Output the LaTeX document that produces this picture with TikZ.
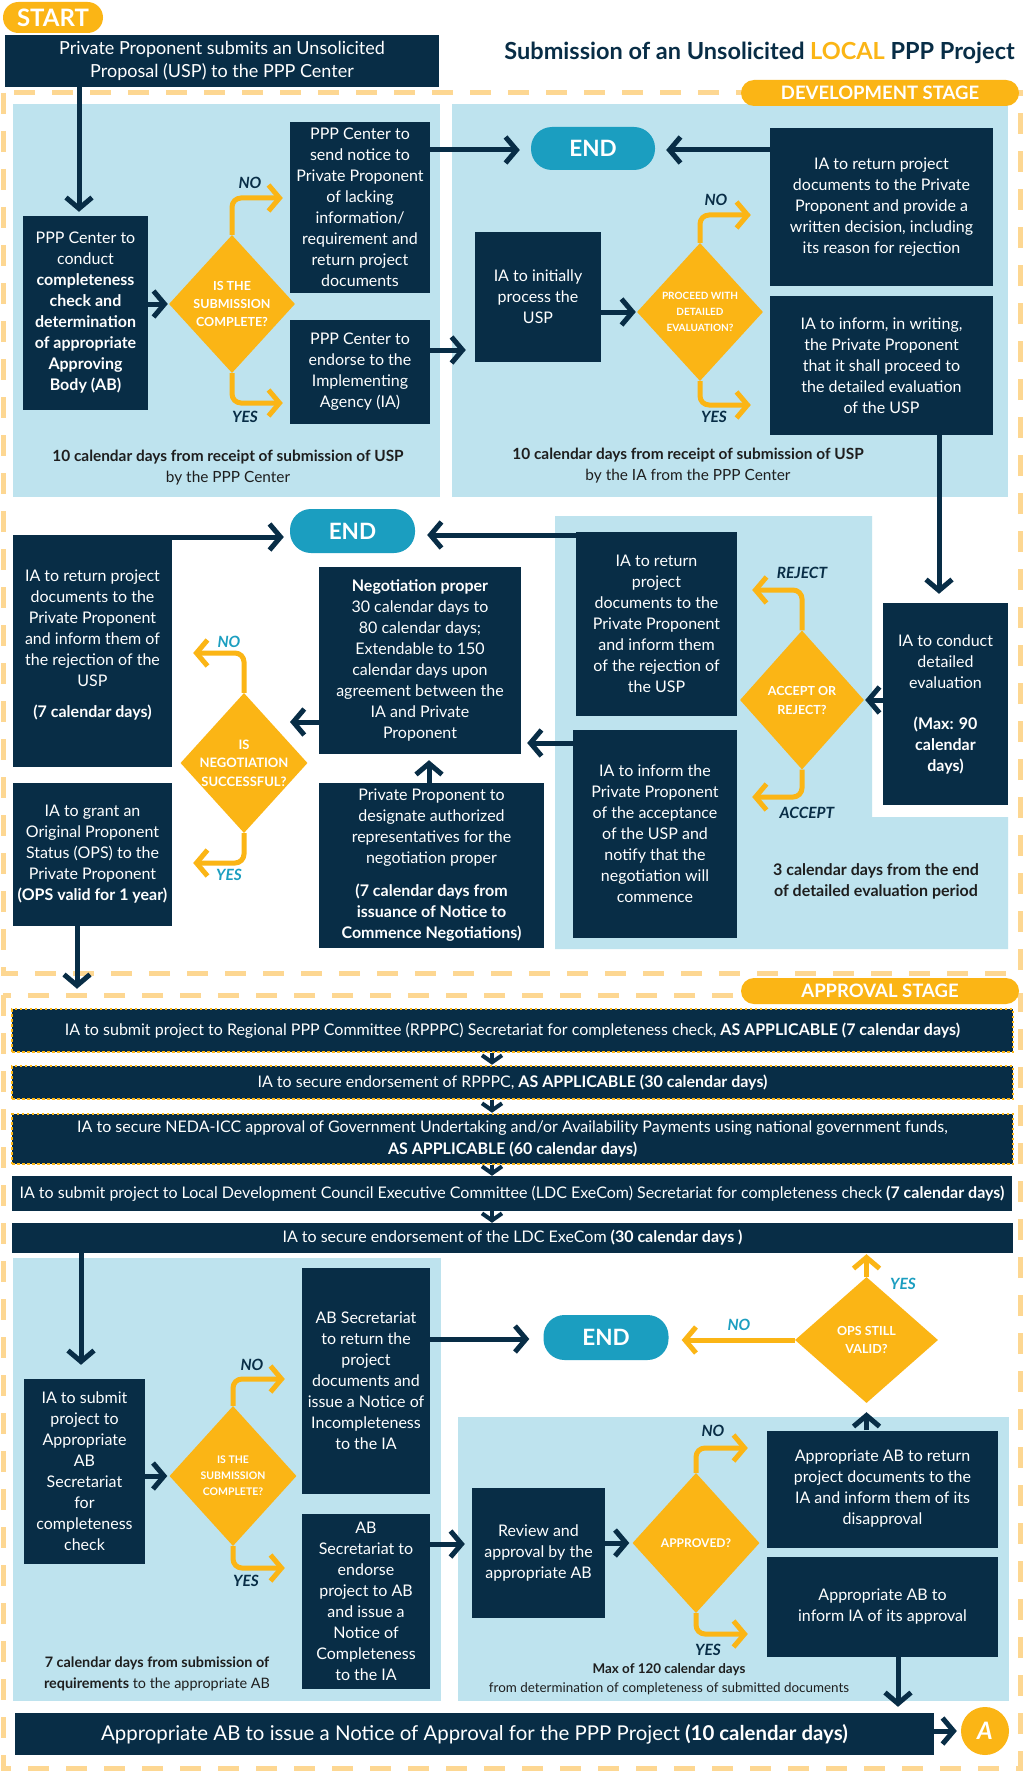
\documentclass[tikz,border=0pt]{standalone}
\usepackage{fontspec}
\setmainfont{Lato}
\usetikzlibrary{arrows.meta,shapes.geometric,calc}
\definecolor{navy}{HTML}{082D46}
\definecolor{yel}{HTML}{FBB515}
\definecolor{lblue}{HTML}{BEE3EE}
\definecolor{dashc}{HTML}{FDD792}
\definecolor{tealc}{HTML}{1B9EC0}
\definecolor{capc}{HTML}{1E1E1E}
\tikzset{
 box/.style={fill=navy, text=white, inner sep=0pt, align=center, font=\fontsize{16}{21}\selectfont},
 dia/.style={diamond, fill=yel, inner sep=0pt},
 diatxt/.style={text=white, align=center, inner sep=0pt},
 endpill/.style={fill=tealc, rounded corners=21pt, text=white, font=\bfseries\fontsize{22.5}{22.5}\selectfont, inner sep=0pt},
 arr/.style={draw=navy, line width=5pt, -{Straight Barb[length=11pt,width=26pt]}},
 yarr/.style={draw=yel, line width=5pt, rounded corners=9pt, -{Straight Barb[length=11pt,width=26pt]}},
 sarr/.style={draw=navy, line width=4pt, -{Straight Barb[length=7pt,width=20pt]}},
 lbl/.style={font=\bfseries\itshape\fontsize{15.5}{15.5}\selectfont, text=navy, inner sep=0pt},
 tlbl/.style={lbl, text=tealc},
 captxt/.style={text=capc, align=center, font=\fontsize{15.4}{21}\selectfont, inner sep=0pt},
 bar/.style={fill=navy, text=white, inner sep=0pt, align=center, font=\fontsize{16}{22}\selectfont},
 dotbar/.style={bar, draw=yel, line width=2.5pt, dash pattern=on 2.5pt off 2.5pt},
 stageframe/.style={draw=dashc, line width=5pt, dash pattern=on 21pt off 17pt},
 stage/.style={fill=yel, text=white, rounded corners=13pt, font=\bfseries\fontsize{18.5}{18.5}\selectfont, inner sep=0pt},
}
\begin{document}
\begin{tikzpicture}[x=1pt,y=-1pt]
\useasboundingbox (0,0) rectangle (1024,1771);
\fill[white] (0,0) rectangle (1024,1771);

% ---------- frames and panels ----------
\draw[stageframe] (3,93) rectangle (1020,973);
\draw[stageframe] (3,995) rectangle (1020,1768);
\fill[lblue] (13,104) rectangle (440,497);
\fill[lblue] (452,104) rectangle (1008,497);
\fill[lblue] (555,516) -- (872,516) -- (872,817) -- (1008,817) -- (1008,949) -- (555,949) -- cycle;
\fill[lblue] (13,1258) rectangle (441,1701);
\fill[lblue] (458,1417) rectangle (1009,1701);

% ---------- header ----------
\node[stage, minimum width=100pt, minimum height=31pt, rounded corners=15.5pt, font=\bfseries\fontsize{24}{24}\selectfont] (start) at (53,17.5) {START};
\node[box, minimum width=434pt, minimum height=52pt, font=\fontsize{18}{23}\selectfont] (topbox) at (222,61) {Private Proponent submits an Unsolicited\\Proposal (USP) to the PPP Center};
\node[anchor=east, text=navy, font=\bfseries\fontsize{23.5}{26}\selectfont, inner sep=0pt] (title) at (1015,53) {Submission of an Unsolicited {\color{yel}LOCAL} PPP Project};
\node[stage, minimum width=278pt, minimum height=26pt] (devst) at (880,93) {DEVELOPMENT STAGE};

% ---------- development stage, panel 1 ----------
\node[box, minimum width=125pt, minimum height=194pt] (ppp1) at (85.5,313) {PPP Center to\\conduct\\\textbf{completeness}\\\textbf{check and}\\\textbf{determination}\\\textbf{of appropriate}\\\textbf{Approving}\\\textbf{Body (AB)}};
\node[dia, minimum width=126pt, minimum height=138pt] (dia1) at (232,304) {};
\node[diatxt, font=\bfseries\fontsize{12.5}{18}\selectfont] (dia1t) at (dia1) {IS THE\\SUBMISSION\\COMPLETE?};
\node[box, minimum width=140pt, minimum height=171pt] (nobox1) at (360,207.5) {PPP Center to\\send notice to\\Private Proponent\\of lacking\\information/\\requirement and\\return project\\documents};
\node[box, minimum width=140pt, minimum height=104pt] (yesbox1) at (360,372) {PPP Center to\\endorse to the\\Implementing\\Agency (IA)};
\node[lbl] (no1) at (250,183) {NO};
\node[lbl] (yes1) at (245,417) {YES};
\node[captxt] (cap1) at (228,467.5) {\textbf{10 calendar days from receipt of submission of USP}\\by the PPP Center};

% ---------- development stage, panel 2 ----------
\node[endpill, minimum width=124pt, minimum height=43pt] (end1) at (593,148.5) {END};
\node[box, minimum width=126pt, minimum height=130pt] (iainit) at (538,297) {IA to initially\\process the\\USP};
\node[dia, minimum width=126pt, minimum height=138pt] (dia2) at (700,312) {};
\node[diatxt, font=\bfseries\fontsize{10}{16}\selectfont] (dia2t) at (dia2) {PROCEED WITH\\DETAILED\\EVALUATION?};
\node[box, minimum width=223pt, minimum height=158pt] (rej1) at (881.5,207) {IA to return project\\documents to the Private\\Proponent and provide a\\written decision, including\\its reason for rejection};
\node[box, minimum width=223pt, minimum height=139pt] (inf1) at (881.5,365.5) {IA to inform, in writing,\\the Private Proponent\\that it shall proceed to\\the detailed evaluation\\of the USP};
\node[lbl] (no2) at (716,200) {NO};
\node[lbl] (yes2) at (714,417) {YES};
\node[captxt] (cap2) at (688,465.5) {\textbf{10 calendar days from receipt of submission of USP}\\by the IA from the PPP Center};

% ---------- development stage, lower part ----------
\node[endpill, minimum width=125pt, minimum height=44pt] (end2) at (352.5,531) {END};
\node[box, minimum width=159pt, minimum height=232pt] (rejneg) at (92.5,651) {IA to return project\\documents to the\\Private Proponent\\and inform them of\\the rejection of the\\USP\\[10pt]\textbf{(7 calendar days)}\\[-6pt]};
\node[box, minimum width=159pt, minimum height=143pt] (ops) at (92.5,854.5) {IA to grant an\\Original Proponent\\Status (OPS) to the\\Private Proponent\\\textbf{(OPS valid for 1 year)}};
\node[dia, minimum width=127pt, minimum height=140pt] (dia3) at (244,763) {};
\node[diatxt, font=\bfseries\fontsize{13}{18.5}\selectfont] (dia3t) at (dia3) {IS\\NEGOTIATION\\SUCCESSFUL?};
\node[box, minimum width=202pt, minimum height=187pt] (neg) at (420,660.5) {\textbf{Negotiation proper}\\30 calendar days to\\80 calendar days;\\Extendable to 150\\calendar days upon\\agreement between the\\IA and Private\\Proponent};
\node[box, minimum width=225pt, minimum height=165pt] (desig) at (431.5,865.5) {Private Proponent to\\designate authorized\\representatives for the\\negotiation proper\\[12pt]\textbf{(7 calendar days from}\\\textbf{issuance of Notice to}\\\textbf{Commence Negotiations)}};
\node[tlbl] (no3) at (229,642) {NO};
\node[tlbl] (yes3) at (229,875) {YES};
\coordinate (negtip) at (290,722);

\node[box, minimum width=161pt, minimum height=184pt] (rej2) at (656.5,624) {IA to return\\project\\documents to the\\Private Proponent\\and inform them\\of the rejection of\\the USP};
\node[box, minimum width=164pt, minimum height=208pt] (acc) at (655,834) {IA to inform the\\Private Proponent\\of the acceptance\\of the USP and\\notify that the\\negotiation will\\commence};
\node[dia, minimum width=124pt, minimum height=139pt] (dia4) at (802,700) {};
\node[diatxt, font=\bfseries\fontsize{12.5}{19}\selectfont] (dia4t) at (dia4) {ACCEPT OR\\REJECT?};
\node[box, minimum width=125pt, minimum height=202pt] (eval) at (945.5,704) {IA to conduct\\detailed\\evaluation\\[20pt]\textbf{(Max: 90}\\\textbf{calendar}\\\textbf{days)}};
\node[lbl] (rejl) at (802,573) {REJECT};
\node[lbl] (accl) at (807,813) {ACCEPT};
\node[captxt, font=\bfseries\fontsize{16}{21}\selectfont] (cap3) at (876,881.5) {3 calendar days from the end\\of detailed evaluation period};

% ---------- approval stage ----------
\node[stage, minimum width=278pt, minimum height=26pt] (aprst) at (880,991) {APPROVAL STAGE};
\node[dotbar, minimum width=1001pt, minimum height=43pt] (bar1) at (512.5,1030.5) {IA to submit project to Regional PPP Committee (RPPPC) Secretariat for completeness check, \textbf{AS APPLICABLE (7 calendar days)}};
\node[dotbar, minimum width=1001pt, minimum height=33pt] (bar2) at (512.5,1082.5) {IA to secure endorsement of RPPPC, \textbf{AS APPLICABLE (30 calendar days)}};
\node[dotbar, minimum width=1001pt, minimum height=50pt] (bar3) at (512.5,1139) {IA to secure NEDA-ICC approval of Government Undertaking and/or Availability Payments using national government funds,\\\textbf{AS APPLICABLE (60 calendar days)}};
\node[bar, minimum width=1000pt, minimum height=35pt] (bar4) at (512,1193.5) {IA to submit project to Local Development Council Executive Committee (LDC ExeCom) Secretariat for completeness check \textbf{(7 calendar days)}};
\node[bar, minimum width=1001pt, minimum height=30pt] (bar5) at (512.5,1238) {IA to secure endorsement of the LDC ExeCom \textbf{(30 calendar days )}};

\node[box, minimum width=121pt, minimum height=185pt] (iasub) at (84.5,1471.5) {IA to submit\\project to\\Appropriate\\AB\\Secretariat\\for\\completeness\\check};
\node[dia, minimum width=127pt, minimum height=140pt] (dia5) at (233,1476) {};
\node[diatxt, font=\bfseries\fontsize{10.5}{16}\selectfont] (dia5t) at (dia5) {IS THE\\SUBMISSION\\COMPLETE?};
\node[box, minimum width=128pt, minimum height=226pt] (abret) at (366,1381) {AB Secretariat\\to return the\\project\\documents and\\issue a Notice of\\Incompleteness\\to the IA};
\node[box, minimum width=128pt, minimum height=175pt] (abend) at (366,1601.5) {AB\\Secretariat to\\endorse\\project to AB\\and issue a\\Notice of\\Completeness\\to the IA};
\node[lbl] (no5) at (252,1365) {NO};
\node[lbl] (yes5) at (246,1581) {YES};
\node[captxt, font=\fontsize{14.4}{21}\selectfont] (cap4) at (157,1673.5) {\textbf{7 calendar days from submission of}\\\textbf{requirements} to the appropriate AB};

\node[endpill, minimum width=125pt, minimum height=45pt] (end3) at (606,1337.5) {END};
\node[dia, minimum width=143pt, minimum height=126pt] (opsd) at (866.5,1340) {};
\node[diatxt, font=\bfseries\fontsize{12.5}{18}\selectfont] (opsdt) at (opsd) {OPS STILL\\VALID?};
\node[tlbl] (yes7) at (903,1284) {YES};
\node[tlbl] (no7) at (739,1325) {NO};

\node[box, minimum width=133pt, minimum height=130pt] (review) at (538.5,1553) {Review and\\approval by the\\appropriate AB};
\node[dia, minimum width=127pt, minimum height=140pt] (dia6) at (696,1543) {};
\node[diatxt, font=\bfseries\fontsize{12}{18}\selectfont] (dia6t) at (dia6) {APPROVED?};
\node[box, minimum width=231pt, minimum height=117pt] (disapp) at (882.5,1489) {Appropriate AB to return\\project documents to the\\IA and inform them of its\\disapproval};
\node[box, minimum width=231pt, minimum height=100pt] (appr) at (882.5,1607) {Appropriate AB to\\inform IA of its approval};
\node[lbl] (no6) at (713,1431) {NO};
\node[lbl] (yes6) at (708,1650) {YES};
\node[captxt, font=\fontsize{13.4}{19}\selectfont] (cap5) at (669,1679.5) {\textbf{Max of 120 calendar days}\\from determination of completeness of submitted documents};

\node[bar, minimum width=919pt, minimum height=42pt, font=\fontsize{20.4}{24}\selectfont] (final) at (474.5,1734) {Appropriate AB to issue a Notice of Approval for the PPP Project \textbf{(10 calendar days)}};
\node[circle, fill=yel, minimum size=48pt, inner sep=0pt, text=white, font=\bfseries\itshape\fontsize{24}{24}\selectfont] (acirc) at (985,1731) {A};

% ---------- connectors: development ----------
\draw[arr, shorten >=4pt] (topbox.south -| 79,0) -- (ppp1.north -| 79,0);
\draw[arr, shorten >=1pt] (ppp1.east |- dia1.west) -- (dia1.west);
\draw[yarr, shorten >=7pt] (dia1.north) |- (nobox1.west |- 0,198);
\draw[yarr, shorten >=7pt] (dia1.south) |- (yesbox1.west |- 0,403);
\draw[arr, shorten >=11pt] (nobox1.east |- 0,150) -- (end1.west |- 0,150);
\draw[arr, shorten >=9pt] (yesbox1.east |- 0,350) -- (iainit.west |- 0,350);
\draw[arr, shorten >=1pt] (iainit.east |- dia2.west) -- (dia2.west);
\draw[yarr, shorten >=19pt] (dia2.north) |- (rej1.west |- 0,215);
\draw[yarr, shorten >=19pt] (dia2.south) |- (inf1.west |- 0,405);
\draw[arr, shorten >=11pt] (rej1.west |- 0,150) -- (end1.east |- 0,150);
\draw[arr, shorten >=9pt] (inf1.south -| 939,0) -- (eval.north -| 939,0);

\draw[arr, shorten >=6pt] (rejneg.north east |- 0,537) -- (end2.west |- 0,537);
\draw[arr, shorten >=12pt] (rej2.north west |- 0,535) -- (end2.east |- 0,535);
\draw[arr] (neg.west |- negtip) -- (negtip);
\draw[arr, shorten >=6pt] (desig.north -| 429,0) -- (neg.south -| 429,0);
\draw[arr, shorten >=6pt] (acc.west |- 0,743) -- (neg.east |- 0,743);
\draw[yarr, shorten >=15pt] (dia4.north) |- (rej2.east |- 0,590);
\draw[yarr, shorten >=15pt] (dia4.south) |- (acc.east |- 0,797);
\draw[arr, shorten >=1pt] (eval.west |- dia4.east) -- (dia4.east);
\draw[yarr, shorten >=21pt] (dia3.north) |- (rejneg.east |- 0,653);
\draw[yarr, shorten >=21pt] (dia3.south) |- (ops.east |- 0,863);
\draw[arr, shorten >=19pt] (ops.south -| 77,0) -- (bar1.north -| 77,0);

% ---------- connectors: approval ----------
\draw[sarr] (bar1.south -| 492,0) -- (bar2.north -| 492,0);
\draw[sarr] (bar2.south -| 492,0) -- (bar3.north -| 492,0);
\draw[sarr] (bar3.south -| 492,0) -- (bar4.north -| 492,0);
\draw[sarr] (bar4.south -| 492,0) -- (bar5.north -| 492,0);
\draw[arr, shorten >=14pt] (bar5.south -| 81,0) -- (iasub.north -| 81,0);
\draw[arr, shorten >=2pt] (iasub.east |- dia5.west) -- (dia5.west);
\draw[yarr, shorten >=17pt] (dia5.north) |- (abret.west |- 0,1379);
\draw[yarr, shorten >=17pt] (dia5.south) |- (abend.west |- 0,1568);
\draw[arr, shorten >=14pt] (abret.east |- 0,1339) -- (end3.west |- 0,1339);
\draw[arr, shorten >=7pt] (abend.east |- 0,1544) -- (review.west |- 0,1544);
\draw[arr, shorten >=3pt] (review.east |- dia6.west) -- (dia6.west);
\draw[yarr, shorten >=19pt] (dia6.north) |- (disapp.west |- 0,1448);
\draw[yarr, shorten >=19pt] (dia6.south) |- (appr.west |- 0,1634);
\draw[arr, shorten >=9pt] (disapp.north -| opsd.south) -- (opsd.south);
\draw[yarr, shorten >=1pt] (opsd.north) -- (bar5.south -| opsd.north);
\draw[yarr, shorten >=13pt] (opsd.west) -- (end3.east |- opsd.west);
\draw[arr, shorten >=6pt] (appr.south -| 898,0) -- (final.north -| 898,0);
\draw[arr, shorten >=4pt] (final.east |- acirc.west) -- (acirc.west);
\end{tikzpicture}
\end{document}
